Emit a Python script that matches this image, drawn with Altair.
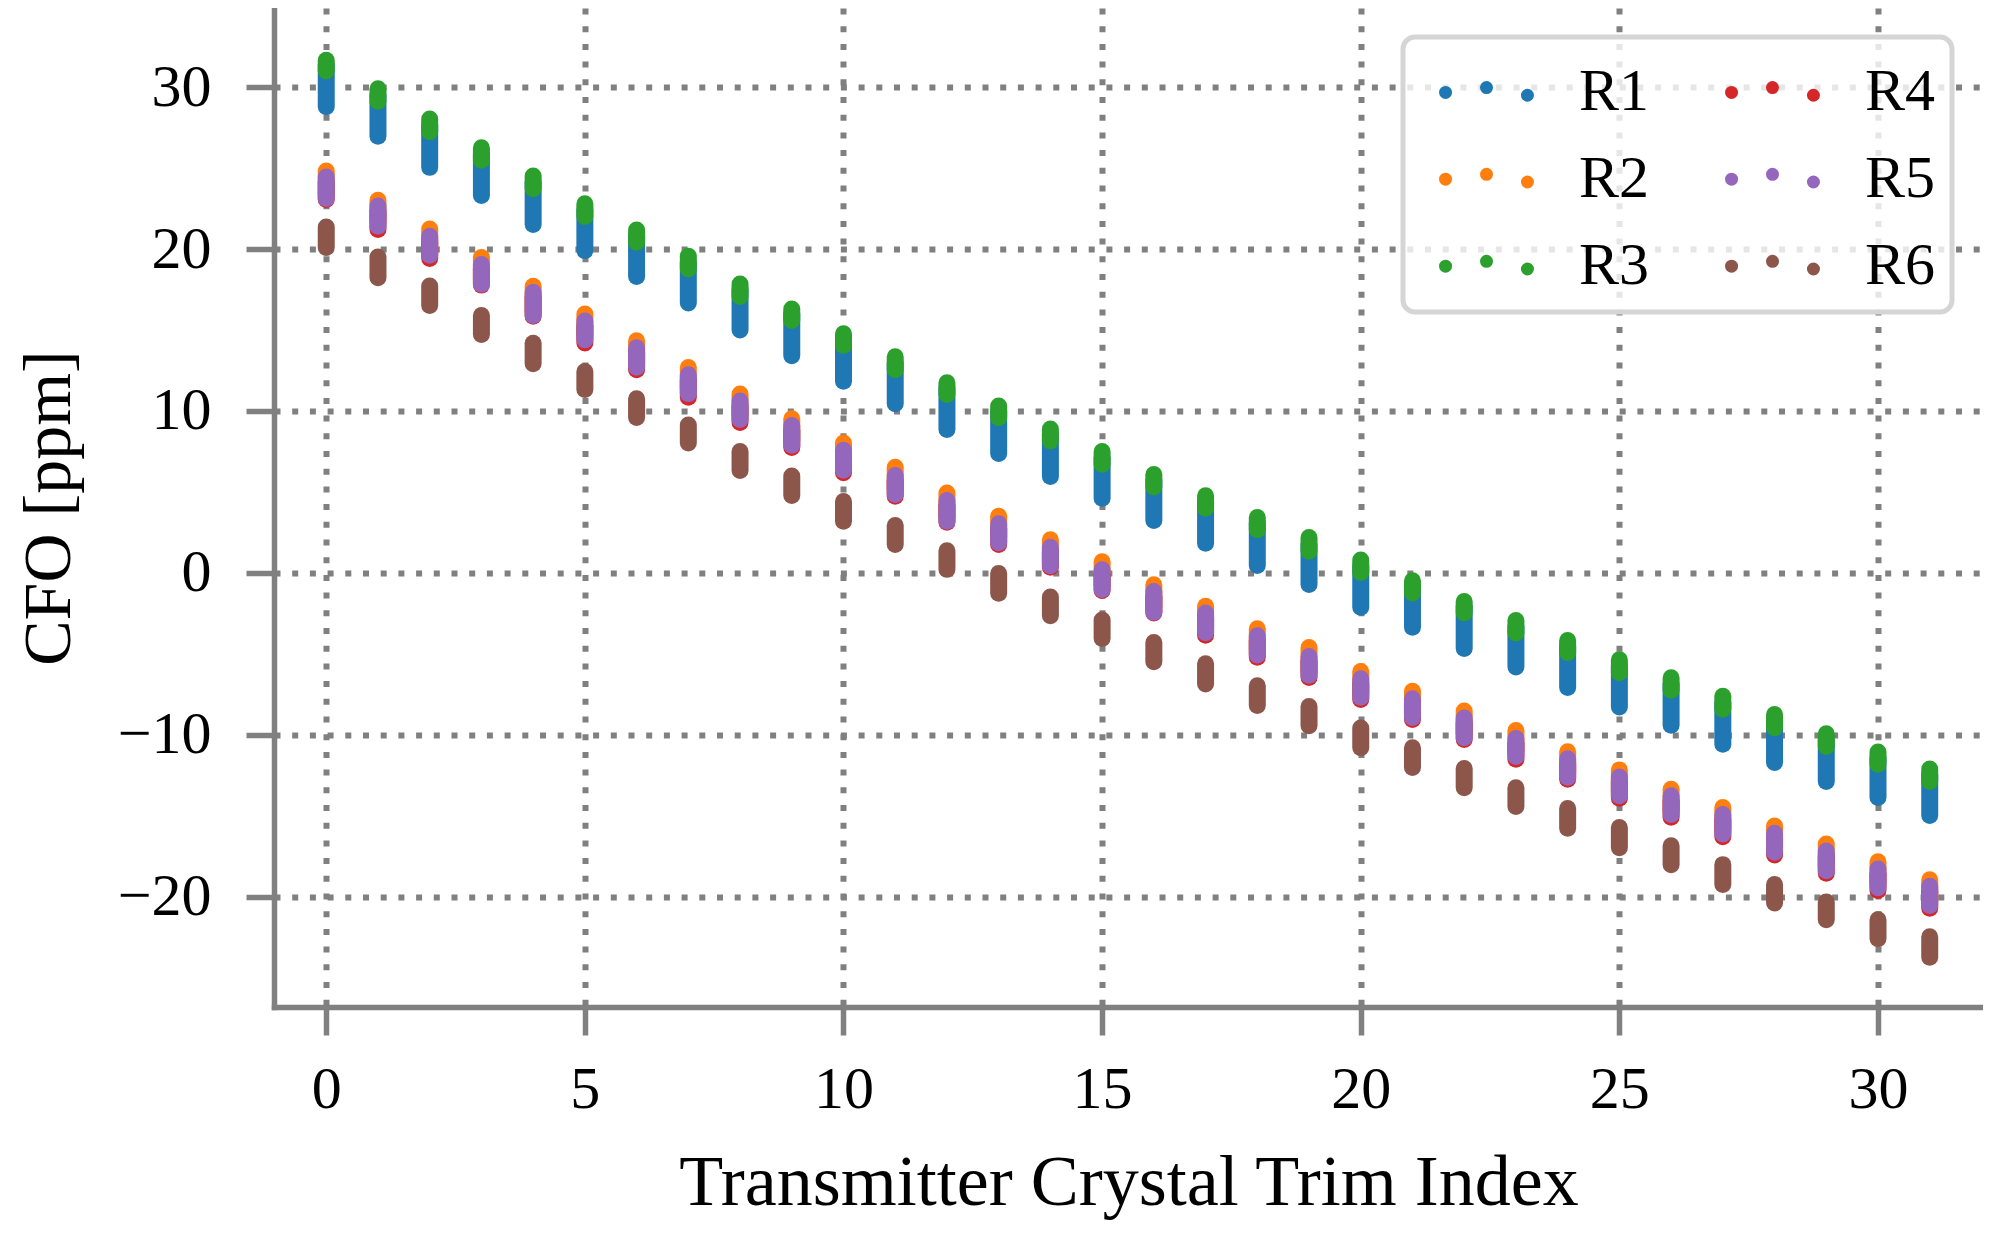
import altair as alt
import pandas as pd

# ---------------- data ----------------
series_names = ["R1", "R2", "R3", "R4", "R5", "R6"]
series_colors = ["#1f77b4", "#ff7f0e", "#2ca02c", "#d62728", "#9467bd", "#8c564b"]
trim_index = list(range(32))

r1_lo = [28.79, 26.96, 25.04, 23.30, 21.51, 19.90, 18.30, 16.67, 15.00, 13.41, 11.83, 10.44, 8.85, 7.38, 5.95, 4.61,
         3.24, 1.83, 0.46, -0.71, -2.12, -3.36, -4.66, -5.81, -7.07, -8.28, -9.41, -10.58, -11.70, -12.87, -13.87, -14.97]
r1_hi = [31.39, 29.52, 27.64, 25.88, 24.12, 22.40, 20.81, 19.17, 17.47, 15.99, 14.45, 12.95, 11.41, 9.98, 8.55, 7.11,
         5.70, 4.39, 3.07, 1.74, 0.42, -0.84, -2.07, -3.31, -4.52, -5.76, -6.84, -8.01, -9.16, -10.31, -11.41, -12.47]

r2_lo = [23.42, 21.70, 19.92, 18.13, 16.19, 14.69, 13.00, 11.36, 9.77, 8.18, 6.64, 5.15, 3.49, 2.17, 0.74, -0.72,
         -2.13, -3.39, -4.76, -6.02, -7.38, -8.62, -9.88, -11.03, -12.31, -13.45, -14.62, -15.82, -16.94, -18.09, -19.13, -20.23]
r2_hi = [24.82, 23.01, 21.23, 19.47, 17.70, 15.98, 14.33, 12.69, 11.04, 9.52, 8.02, 6.52, 4.93, 3.50, 2.05, 0.69,
         -0.73, -2.05, -3.44, -4.61, -6.09, -7.30, -8.52, -9.73, -11.04, -12.16, -13.35, -14.48, -15.63, -16.73, -17.83, -18.94]

r3_lo = [30.99, 29.12, 27.24, 25.48, 23.72, 22.00, 20.41, 18.77, 17.07, 15.59, 14.05, 12.55, 11.01, 9.58, 8.15, 6.71,
         5.30, 3.99, 2.67, 1.34, 0.02, -1.24, -2.47, -3.71, -4.92, -6.16, -7.24, -8.41, -9.56, -10.71, -11.81, -12.87]
r3_hi = [31.65, 29.89, 28.02, 26.25, 24.51, 22.79, 21.18, 19.56, 17.84, 16.30, 14.76, 13.35, 11.74, 10.31, 8.88, 7.49,
         6.07, 4.77, 3.42, 2.19, 0.80, -0.48, -1.76, -2.93, -4.17, -5.36, -6.47, -7.61, -8.74, -9.93, -11.06, -12.10]

r4_lo = [23.05, 21.20, 19.42, 17.77, 15.85, 14.20, 12.54, 10.84, 9.29, 7.75, 6.19, 4.74, 3.13, 1.76, 0.35, -1.08,
         -2.47, -3.84, -5.21, -6.45, -7.82, -9.05, -10.29, -11.50, -12.74, -13.91, -15.08, -16.29, -17.42, -18.54, -19.60, -20.71]
r4_hi = [24.15, 22.36, 20.49, 18.75, 17.03, 15.26, 13.61, 11.93, 10.32, 8.80, 7.28, 5.71, 4.17, 2.74, 1.29, -0.10,
         -1.45, -2.77, -4.18, -5.46, -6.83, -8.07, -9.26, -10.52, -11.78, -12.90, -14.05, -15.22, -16.37, -17.47, -18.58, -19.64]

r5_lo = [23.12, 21.40, 19.62, 17.83, 15.89, 14.39, 12.70, 11.06, 9.47, 7.88, 6.34, 4.85, 3.19, 1.87, 0.44, -1.02,
         -2.43, -3.69, -5.06, -6.32, -7.68, -8.92, -10.18, -11.33, -12.61, -13.75, -14.92, -16.12, -17.24, -18.39, -19.43, -20.53]
r5_hi = [24.45, 22.66, 20.79, 19.05, 17.33, 15.56, 13.91, 12.23, 10.62, 9.10, 7.58, 6.01, 4.47, 3.04, 1.59, 0.20,
         -1.15, -2.47, -3.88, -5.16, -6.53, -7.77, -8.96, -10.22, -11.48, -12.60, -13.75, -14.92, -16.07, -17.17, -18.28, -19.34]

r6_lo = [20.10, 18.23, 16.51, 14.72, 12.92, 11.33, 9.59, 8.02, 6.32, 4.78, 3.19, 1.76, 0.22, -1.26, -2.64, -4.04,
         -5.48, -6.85, -8.19, -9.43, -10.80, -12.01, -13.27, -14.42, -15.76, -16.96, -18.01, -19.23, -20.38, -21.41, -22.58, -23.73]
r6_hi = [21.36, 19.51, 17.72, 15.89, 14.18, 12.43, 10.76, 9.14, 7.49, 5.99, 4.41, 2.93, 1.37, -0.04, -1.48, -2.91,
         -4.30, -5.61, -6.97, -8.25, -9.58, -10.79, -12.07, -13.27, -14.55, -15.72, -16.84, -18.01, -19.23, -20.31, -21.41, -22.47]

x_ticks = [0, 5, 10, 15, 20, 25, 30]
y_ticks = [-20, -10, 0, 10, 20, 30]

lows = [r1_lo, r2_lo, r3_lo, r4_lo, r5_lo, r6_lo]
highs = [r1_hi, r2_hi, r3_hi, r4_hi, r5_hi, r6_hi]

rows = []
for k, name in enumerate(series_names):
    for i in trim_index:
        rows.append({"series": name, "idx": i, "lo": lows[k][i], "hi": highs[k][i], "ord": k})
df = pd.DataFrame(rows)

# three-dot legend glyph (like a matplotlib scatter legend handle)
r = 0.093
def dot(cx, cy):
    return (f"M {cx - r:.3f},{cy:.3f} A {r},{r} 0 1,0 {cx + r:.3f},{cy:.3f} "
            f"A {r},{r} 0 1,0 {cx - r:.3f},{cy:.3f} Z ")
three_dots = dot(-1.17, 0.02) + dot(0.0, -0.12) + dot(1.17, 0.10)

FONT = "Liberation Serif"
GRAY = "#808080"

chart = alt.Chart(df).mark_rule(strokeWidth=17, strokeCap="round").encode(
    x=alt.X("idx:Q",
            scale=alt.Scale(domain=[-1.01, 32.03], nice=False, zero=False),
            axis=alt.Axis(values=x_ticks, format="d", title="Transmitter Crystal Trim Index",
                          labelBaseline="alphabetic", labelPadding=72,
                          titleY=197, titleBaseline="alphabetic", titleFontSize=72)),
    y=alt.Y("lo:Q",
            scale=alt.Scale(domain=[-26.8, 34.88], nice=False, zero=False),
            axis=alt.Axis(values=y_ticks, title="CFO [ppm]",
                          labelExpr="datum.value < 0 ? '\u2212' + format(-datum.value, 'd') : format(datum.value, 'd')",
                          labelPadding=35, titleX=-205, titleBaseline="alphabetic", titleFontSize=68)),
    y2="hi:Q",
    color=alt.Color("series:N",
                    scale=alt.Scale(domain=series_names, range=series_colors),
                    legend=alt.Legend(title=None, columns=2, orient="none",
                                      legendX=1129, legendY=29,
                                      symbolType=three_dots, symbolSize=4900,
                                      symbolStrokeWidth=6.5, symbolOffset=29,
                                      labelOffset=54, columnPadding=55, rowPadding=18,
                                      padding=16, labelFont=FONT, labelFontSize=60,
                                      labelColor="black", labelBaseline="middle",
                                      fillColor="rgba(255,255,255,0.8)",
                                      strokeColor="#d5d5d5", cornerRadius=12)),
    order=alt.Order("ord:Q"),
).properties(
    width=1709,
    height=999,
    autosize=alt.AutoSizeParams(type="none"),
    padding={"left": 266, "top": 0, "right": 0, "bottom": 217},
).configure_view(
    stroke="transparent"
).configure_axis(
    grid=True,
    gridColor=GRAY,
    gridWidth=6,
    gridDash=[6, 11.7],
    gridOpacity=1,
    domainColor=GRAY,
    domainWidth=5.5,
    domainCap="square",
    tickColor=GRAY,
    tickWidth=5.5,
    tickSize=28,
    labelFont=FONT,
    labelFontSize=60,
    labelColor="black",
    titleFont=FONT,
    titleFontWeight="normal",
    titleColor="black",
).configure_legend(
    strokeWidth=5
)

chart.save("out.html", embed_options={"renderer": "svg", "actions": False})
